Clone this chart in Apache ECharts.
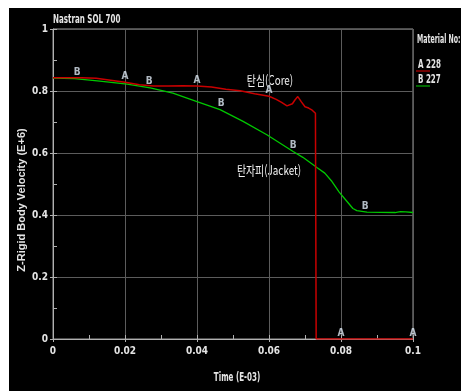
<!DOCTYPE html>
<html>
<head>
<meta charset="utf-8">
<script src="https://cdn.jsdelivr.net/npm/echarts@6/dist/echarts.min.js"></script>
<style>
  html, body { margin: 0; padding: 0; background: #fff; }
  #dom { position: absolute; left: 9px; top: 8px; width: 452px; height: 383px; background: #000; }
</style>
</head>
<body>
<div id="dom"></div>
<script>
// 탄심(Core), material 228 -> curve A
const coreTime = [0, 0.008, 0.012, 0.016, 0.02, 0.024, 0.028, 0.032, 0.036, 0.04, 0.044, 0.048, 0.052, 0.056, 0.06, 0.062, 0.0635, 0.065, 0.0665, 0.0672, 0.068, 0.069, 0.070, 0.071, 0.072, 0.0729, 0.0731, 0.1]
const coreVel = [0.843, 0.843, 0.841, 0.835, 0.828, 0.820, 0.816, 0.816, 0.817, 0.816, 0.813, 0.806, 0.801, 0.791, 0.783, 0.773, 0.763, 0.752, 0.759, 0.771, 0.782, 0.765, 0.749, 0.745, 0.738, 0.728, 0, 0]
// 탄자피(Jacket), material 227 -> curve B
const jacketTime = [0, 0.006, 0.013, 0.0206, 0.027, 0.0333, 0.04, 0.0464, 0.0528, 0.0594, 0.0667, 0.0694, 0.0733, 0.0755, 0.0775, 0.0795, 0.0815, 0.0833, 0.0844, 0.0872, 0.095, 0.0965, 0.098, 0.1]
const jacketVel = [0.842, 0.840, 0.832, 0.822, 0.810, 0.793, 0.766, 0.740, 0.702, 0.659, 0.605, 0.586, 0.553, 0.535, 0.508, 0.474, 0.446, 0.421, 0.414, 0.409, 0.408, 0.411, 0.410, 0.408]
// curve letters drawn along the lines
const markATime = [0.02, 0.04, 0.06, 0.08, 0.1]
const markAVel = [0.828, 0.816, 0.783, 0, 0]
const markBTime = [0.0067, 0.0267, 0.0467, 0.0667, 0.0867]
const markBVel = [0.840, 0.811, 0.740, 0.605, 0.409]

const zip = (xs, ys) => xs.map((x, i) => [x, ys[i]])
const narrow = "'Liberation Sans Narrow', 'DejaVu Sans Condensed', sans-serif"
const txt = '#e4e4e4'
const sq = 0.66

let myChart = echarts.init(document.getElementById('dom'))

const option = {
    animation: false,
    backgroundColor: '#000',
    grid: {
        left: 44,
        top: 21,
        right: 48,
        bottom: 52,
        show: true,
        borderColor: '#9a9a9a',
        borderWidth: 1
    },
    xAxis: [{
        type: 'value',
        min: 0,
        max: 0.1,
        interval: 0.02,
        axisLine: { lineStyle: { color: '#b0b0b0' } },
        axisTick: { show: true, length: 3, lineStyle: { color: '#b0b0b0' } },
        axisLabel: { color: txt, fontFamily: narrow, fontWeight: 'bold', fontSize: 10, margin: 7 },
        splitLine: { show: true, lineStyle: { color: '#5c5c5c', width: 1 } }
    }, {
        // minor ticks, pointing inwards
        type: 'value',
        position: 'bottom',
        min: 0,
        max: 0.1,
        interval: 0.01,
        axisLine: { show: false },
        axisTick: { show: true, inside: true, length: 4, lineStyle: { color: '#b0b0b0' } },
        axisLabel: { show: false },
        splitLine: { show: false }
    }],
    yAxis: [{
        type: 'value',
        min: 0,
        max: 1,
        interval: 0.2,
        axisLine: { show: true, lineStyle: { color: '#b0b0b0' } },
        axisTick: { show: true, length: 3, lineStyle: { color: '#b0b0b0' } },
        axisLabel: { color: txt, fontFamily: narrow, fontWeight: 'bold', fontSize: 10, margin: 5 },
        splitLine: { show: true, lineStyle: { color: '#5c5c5c', width: 1 } }
    }, {
        type: 'value',
        position: 'left',
        min: 0,
        max: 1,
        interval: 0.1,
        axisLine: { show: false },
        axisTick: { show: true, inside: true, length: 4, lineStyle: { color: '#b0b0b0' } },
        axisLabel: { show: false },
        splitLine: { show: false }
    }],
    series: [
        {
            name: 'B 227',
            type: 'line',
            showSymbol: false,
            lineStyle: { color: '#00c800', width: 1.3 },
            data: zip(jacketTime, jacketVel),
            z: 3
        },
        {
            name: 'A 228',
            type: 'line',
            showSymbol: false,
            lineStyle: { color: '#c80000', width: 1.5 },
            data: zip(coreTime, coreVel),
            z: 4
        },
        {
            type: 'scatter',
            symbolSize: 0,
            data: zip(markATime, markAVel),
            label: { show: true, position: 'top', distance: 1, formatter: 'A', color: '#dde8f4', fontFamily: narrow, fontWeight: 'bold', fontSize: 10 },
            z: 5
        },
        {
            type: 'scatter',
            symbolSize: 0,
            data: zip(markBTime, markBVel),
            label: { show: true, position: 'top', distance: 1, formatter: 'B', color: '#dde8f4', fontFamily: narrow, fontWeight: 'bold', fontSize: 10 },
            z: 5
        }
    ],
    graphic: [
        { type: 'text', x: 44, y: 12, scaleX: sq, style: { text: 'Nastran SOL 700', fill: txt, font: 'bold 12px ' + narrow, verticalAlign: 'middle' } },
        { type: 'text', x: 13, y: 192, rotation: Math.PI / 2, style: { text: 'Z-Rigid Body Velocity (E+6)', fill: txt, font: 'bold 11px "Liberation Sans", sans-serif', align: 'center', verticalAlign: 'middle' } },
        { type: 'text', x: 228, y: 370, scaleX: sq, style: { text: 'Time (E-03)', fill: txt, font: 'bold 12px ' + narrow, align: 'center', verticalAlign: 'middle' } },
        { type: 'text', x: 408, y: 32, scaleX: 0.58, style: { text: 'Material No:', fill: txt, font: 'bold 12px ' + narrow, verticalAlign: 'middle' } },
        { type: 'text', x: 409, y: 57, scaleX: sq, style: { text: 'A 228', fill: txt, font: 'bold 12px ' + narrow, verticalAlign: 'middle' } },
        { type: 'line', shape: { x1: 407, y1: 63, x2: 421, y2: 63 }, style: { stroke: '#e00000', lineWidth: 1 } },
        { type: 'text', x: 409, y: 72, scaleX: sq, style: { text: 'B 227', fill: txt, font: 'bold 12px ' + narrow, verticalAlign: 'middle' } },
        { type: 'line', shape: { x1: 407, y1: 78, x2: 421, y2: 78 }, style: { stroke: '#00d000', lineWidth: 1 } },
        { type: 'text', x: 261, y: 72, scaleX: 0.76, style: { text: '탄심(Core)', fill: '#f0f0f0', font: '13px "Noto Sans CJK KR", sans-serif', align: 'center', verticalAlign: 'middle' } },
        { type: 'text', x: 260, y: 162, scaleX: 0.76, style: { text: '탄자피(Jacket)', fill: '#f0f0f0', font: '13px "Noto Sans CJK KR", sans-serif', align: 'center', verticalAlign: 'middle' } }
    ]
}

myChart.setOption(option, true)
</script>
</body>
</html>
